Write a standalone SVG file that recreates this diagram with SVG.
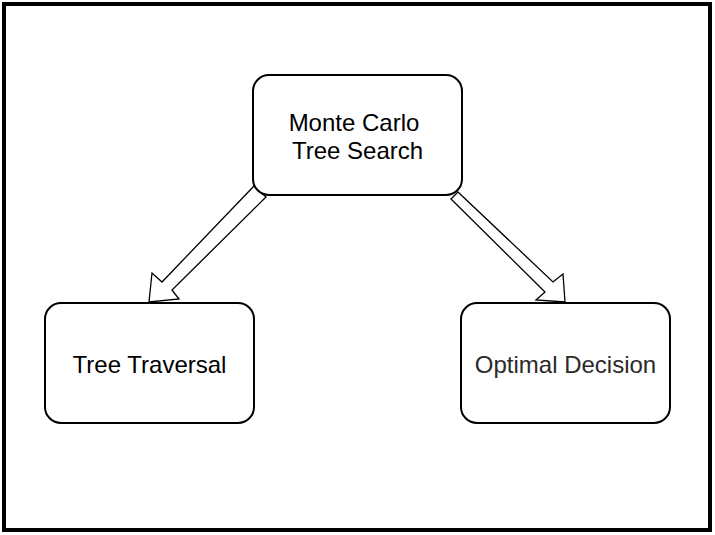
<svg xmlns="http://www.w3.org/2000/svg" width="715" height="535" viewBox="0 0 715 535">
<style>
.node rect{fill:#fff;stroke:#000;stroke-width:2}
.node text{font-family:"Liberation Sans",Arial,sans-serif;font-size:24px;fill:#000;text-anchor:middle}
.arrow{fill:#fff;stroke:#000;stroke-width:1.3;stroke-linejoin:miter}
</style>
<rect x="0" y="0" width="715" height="535" fill="#fff"/>
<rect x="4" y="4" width="706" height="526" fill="none" stroke="#000" stroke-width="4"/>
<g id="connectors">
<polygon class="arrow" points="254,186 266,197 172,290 179,299 149,302 152,273 162,282"/>
<polygon class="arrow" points="458,192 553,282 563,274 565,302 536,300 545,292 451,199"/>
</g>
<g id="mcts" class="node">
<rect x="253" y="75" width="209" height="120" rx="16"/>
<text x="354" y="130.5">Monte Carlo</text>
<text x="357.5" y="158.5">Tree Search</text>
</g>
<g id="traversal" class="node">
<rect x="45" y="303" width="209" height="120" rx="16"/>
<text x="149.5" y="373">Tree Traversal</text>
</g>
<g id="decision" class="node">
<rect x="461" y="303" width="209" height="120" rx="16"/>
<text x="565.5" y="373" style="fill:#2a2a2a">Optimal Decision</text>
</g>
</svg>
